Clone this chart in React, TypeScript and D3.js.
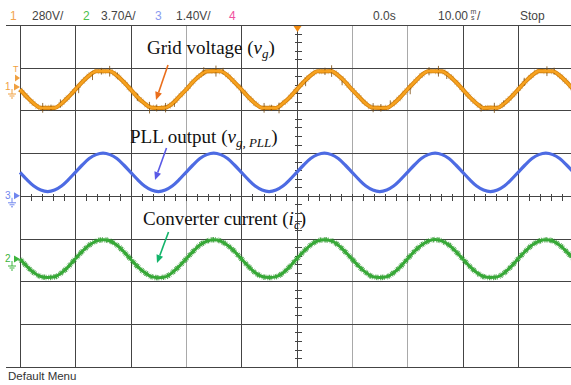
import React, { useEffect, useRef } from 'react';
import * as d3 from 'd3';

const W = 571;
const H = 385;

// one sample every 1.25 ms, 100 ms on screen (10 div x 10 ms)
const sampleStepMs = 1.25;
const timeSpanMs = 100;

// channel 1, grid voltage (V)
const gridVoltage = [
  -10, -59, -102, -130, -130, -130, -102, -59, -10, 39, 82, 110, 110, 110, 82, 39,
  -10, -60, -101, -129, -131, -129, -103, -58, -11, 40, 81, 109, 111, 110, 83, 38,
  -9, -59, -102, -130, -130, -131, -101, -60, -10, 39, 82, 110, 109, 111, 82, 40,
  -11, -58, -103, -129, -130, -130, -102, -59, -9, 38, 83, 110, 110, 109, 81, 39,
  -10, -60, -102, -131, -129, -130, -101, -59, -10, 40, 82, 111, 110, 110, 82, 39,
  -10,
];

// switching spikes on the grid voltage: time (ms), spike height (V)
const spikeTimes = [
  4.1, 5.6, 7.3, 10.6, 13.1, 14.7, 16.2, 17.6, 21.2, 23.4, 24.7, 26.3, 27.9,
  33.2, 35.4, 36.7, 39.9, 44.1, 45.4, 46.8, 51.6, 55.1, 56.3, 58.2, 63.8,
  65.2, 66.9, 70.5, 73.9, 75.6, 77.1, 83.3, 85.7, 87.4, 91.1, 95.2, 96.5,
];
const spikeHeights = [
  64, 42, 55, 48, 60, 44, 70, 40, 50, 76, 46, 62, 42,
  54, 72, 44, 50, 64, 40, 70, 54, 48, 76, 44, 60,
  50, 42, 64, 54, 70, 44, 48, 66, 40, 54, 64, 46,
];

// channel 3, PLL output (V)
const pllOutput = [
  0.77, 0.53, 0.32, 0.19, 0.14, 0.19, 0.32, 0.53, 0.77, 1.01, 1.22, 1.35, 1.4, 1.35, 1.22, 1.01,
  0.77, 0.53, 0.32, 0.19, 0.14, 0.19, 0.32, 0.53, 0.77, 1.01, 1.22, 1.35, 1.4, 1.35, 1.22, 1.01,
  0.77, 0.53, 0.32, 0.19, 0.14, 0.19, 0.32, 0.53, 0.77, 1.01, 1.22, 1.35, 1.4, 1.35, 1.22, 1.01,
  0.77, 0.53, 0.32, 0.19, 0.14, 0.19, 0.32, 0.53, 0.77, 1.01, 1.22, 1.35, 1.4, 1.35, 1.22, 1.01,
  0.77, 0.53, 0.32, 0.19, 0.14, 0.19, 0.32, 0.53, 0.77, 1.01, 1.22, 1.35, 1.4, 1.35, 1.22, 1.01,
  0.77,
];

// channel 2, converter current (A)
const converterCurrent = [
  0, -0.64, -1.18, -1.52, -1.6, -1.54, -1.2, -0.66, 0.02, 0.66, 1.2, 1.55, 1.66, 1.56, 1.2, 0.64,
  -0.02, -0.66, -1.16, -1.53, -1.62, -1.55, -1.18, -0.64, 0, 0.64, 1.21, 1.54, 1.67, 1.55, 1.19, 0.66,
  0.01, -0.63, -1.19, -1.52, -1.61, -1.53, -1.21, -0.65, 0.02, 0.65, 1.2, 1.56, 1.66, 1.57, 1.2, 0.63,
  -0.01, -0.65, -1.18, -1.54, -1.6, -1.54, -1.19, -0.66, 0.01, 0.66, 1.19, 1.55, 1.68, 1.55, 1.21, 0.65,
  0, -0.64, -1.17, -1.52, -1.61, -1.55, -1.2, -0.64, 0.02, 0.65, 1.2, 1.54, 1.66, 1.56, 1.2, 0.64,
  0,
];

const channelNumbers = ['1', '2', '3', '4'];
const channelScaleLabels = ['280V/', '3.70A/', '1.40V/', ''];
const voltsPerDiv = { ch1: 280, ch2: 3.7, ch3: 1.4 };

const App = () => {
  const ref = useRef<SVGSVGElement>(null);

  useEffect(() => {
    const svg = d3.select(ref.current);
    svg.selectAll('*').remove();

    const left = 20;
    const top = 25;
    const divW = 55.35;
    const divH = 42.7;
    const bottom = top + 8 * divH;

    const x = d3.scaleLinear().domain([0, timeSpanMs]).range([left, left + 10 * divW]);

    // channel ground levels (px)
    const g1 = 88;
    const g3 = top + 4 * divH;
    const g2 = 259;
    const y1 = d3.scaleLinear().domain([0, voltsPerDiv.ch1]).range([g1, g1 - divH]);
    const y3 = d3.scaleLinear().domain([0, voltsPerDiv.ch3]).range([g3, g3 - divH]);
    const y2 = d3.scaleLinear().domain([0, voltsPerDiv.ch2]).range([g2, g2 - divH]);

    svg.append('rect').attr('width', W).attr('height', H).attr('fill', '#fff');

    // grid
    const grid = svg.append('g').attr('shape-rendering', 'crispEdges');
    const lighter = [3, 6, 7];
    d3.range(1, 11).forEach((i) => {
      grid.append('line')
        .attr('x1', Math.round(left + i * divW) + 0.5).attr('x2', Math.round(left + i * divW) + 0.5)
        .attr('y1', top).attr('y2', bottom)
        .attr('stroke', lighter.includes(i) ? '#a9a9a9' : '#444');
    });
    d3.range(1, 8).forEach((j) => {
      grid.append('line')
        .attr('x1', left).attr('x2', W)
        .attr('y1', Math.round(top + j * divH) + 0.5).attr('y2', Math.round(top + j * divH) + 0.5)
        .attr('stroke', '#444');
    });
    grid.append('line').attr('x1', left + 0.5).attr('x2', left + 0.5)
      .attr('y1', top).attr('y2', bottom).attr('stroke', '#444');
    grid.append('line').attr('x1', 6).attr('x2', W).attr('y1', top + 0.5).attr('y2', top + 0.5).attr('stroke', '#444');
    grid.append('line').attr('x1', 6).attr('x2', W).attr('y1', Math.round(bottom) + 0.5).attr('y2', Math.round(bottom) + 0.5).attr('stroke', '#444');

    // minor ticks on centre lines
    const cx = Math.round(left + 5 * divW) + 0.5;
    const cy = Math.round(g3) + 0.5;
    d3.range(1, 40).forEach((k) => {
      const yy = Math.round(top + k * divH / 5) + 0.5;
      grid.append('line').attr('x1', cx - 3).attr('x2', cx + 4).attr('y1', yy).attr('y2', yy).attr('stroke', '#444');
    });
    d3.range(1, 50).forEach((k) => {
      const xx = Math.round(left + k * divW / 5) + 0.5;
      grid.append('line').attr('x1', xx).attr('x2', xx).attr('y1', cy - 3).attr('y2', cy + 4).attr('stroke', '#444');
    });

    // traces
    const line = (y: d3.ScaleLinear<number, number>) => d3.line<number>()
      .x((_, i) => x(i * sampleStepMs))
      .y((d) => y(d))
      .curve(d3.curveMonotoneX);

    const traces = svg.append('g').attr('fill', 'none').attr('stroke-linejoin', 'round');

    // grid voltage, orange with dark rim and spikes
    const vPath = line(y1)(gridVoltage) as string;
    traces.append('path').attr('d', vPath)
      .attr('stroke', '#9a6210').attr('stroke-width', 6).attr('opacity', 0.45)
      .attr('stroke-dasharray', '0.7 2.3 0.6 4 0.8 1.6 0.6 5.5');
    traces.append('path').attr('d', vPath)
      .attr('stroke', '#d4820f').attr('stroke-width', 4.2);

    // spikes, read at the trace value nearest in time
    const nearest = (t: number) => gridVoltage[Math.round(t / sampleStepMs)];
    traces.selectAll('line.spike')
      .data(spikeTimes.map((t, i) => ({ t, h: spikeHeights[i] })))
      .join('line')
      .attr('class', 'spike')
      .attr('x1', (d) => x(d.t)).attr('x2', (d) => x(d.t))
      .attr('y1', (d) => y1(nearest(d.t) + d.h / 2))
      .attr('y2', (d) => y1(nearest(d.t) - d.h / 2))
      .attr('stroke', '#7a4a0a').attr('stroke-width', 1).attr('opacity', 0.8);

    traces.append('path').attr('d', vPath)
      .attr('stroke', '#f7a21f').attr('stroke-width', 2.4);

    // PLL output, blue
    traces.append('path').attr('d', line(y3)(pllOutput))
      .attr('stroke', '#4d6be3').attr('stroke-width', 3.2);

    // converter current, green fuzzy
    const iPath = line(y2)(converterCurrent) as string;
    traces.append('path').attr('d', iPath)
      .attr('stroke', '#1e8c1e').attr('stroke-width', 5.5).attr('opacity', 0.75)
      .attr('stroke-dasharray', '0.6 0.9 1.2 0.7 0.5 1.4 0.9 0.6 1.5 0.8 0.7 1.9');
    traces.append('path').attr('d', iPath)
      .attr('stroke', '#36a836').attr('stroke-width', 3);

    // trigger marker
    svg.append('path').attr('d', `M${cx - 4},${top + 1}L${cx + 4},${top + 1}L${cx},${top + 7}Z`).attr('fill', '#f08a10');

    // channel markers at the left edge
    const ground = (gx: number, gy: number) =>
      `M${gx},${gy - 3}V${gy + 2}M${gx - 4},${gy + 2}H${gx + 4}M${gx - 2.5},${gy + 4}H${gx + 2.5}M${gx - 1},${gy + 6}H${gx + 1}`;
    const marker = (num: string, gy: number, color: string) => {
      const m = svg.append('g');
      m.append('text').attr('x', 5).attr('y', gy + 3).attr('font-family', 'Liberation Sans, sans-serif')
        .attr('font-size', 10).attr('fill', color).text(num);
      m.append('path').attr('d', `M14,${gy - 3.5}L20,${gy}L14,${gy + 3.5}Z`).attr('fill', color);
      m.append('path').attr('d', ground(12, gy + 5)).attr('stroke', color).attr('fill', 'none').attr('stroke-width', 1);
    };
    svg.append('text').attr('x', 13).attr('y', 72).attr('font-family', 'Liberation Sans, sans-serif')
      .attr('font-size', 9).attr('fill', '#f0a040').text('T');
    svg.append('path').attr('d', 'M15,74.5L20,78L15,81.5Z').attr('fill', '#f0a040');
    marker('1', g1 - 1, '#f0a040');
    marker('3', g3, '#6f86ee');
    marker('2', g2, '#3cb43c');

    // header
    const hdr = svg.append('g').attr('font-family', 'Liberation Sans, Arial, sans-serif').attr('font-size', 12);
    const numColors = ['#f2a44e', '#4cc04c', '#8a9cf0', '#f0509e'];
    const numX = [10, 83, 155, 229];
    const lblX = [32, 101, 176, 0];
    channelNumbers.forEach((n, i) => {
      hdr.append('text').attr('x', numX[i]).attr('y', 20).attr('fill', numColors[i]).text(n);
      if (channelScaleLabels[i]) {
        hdr.append('text').attr('x', lblX[i]).attr('y', 20).attr('fill', '#444').text(channelScaleLabels[i]);
      }
    });
    hdr.append('text').attr('x', 373).attr('y', 20).attr('fill', '#444').text('0.0s');
    hdr.append('text').attr('x', 438).attr('y', 20).attr('fill', '#444').text('10.00');
    hdr.append('text').attr('x', 470.5).attr('y', 14).attr('font-size', 7).attr('fill', '#444').text('m');
    hdr.append('text').attr('x', 471).attr('y', 20).attr('font-size', 7).attr('fill', '#444').text('s');
    hdr.append('text').attr('x', 477).attr('y', 20).attr('fill', '#444').text('/');
    hdr.append('text').attr('x', 520).attr('y', 20).attr('fill', '#444').text('Stop');

    svg.append('text').attr('x', 8).attr('y', 380).attr('font-family', 'Liberation Sans, Arial, sans-serif')
      .attr('font-size', 11.5).attr('fill', '#333').text('Default Menu');

    // annotations
    const serif = 'Liberation Serif, Times New Roman, serif';
    const ann = svg.append('g').attr('font-family', serif).attr('font-size', 19).attr('fill', '#111');
    const t1 = ann.append('text').attr('x', 147).attr('y', 54);
    t1.append('tspan').text('Grid voltage (');
    t1.append('tspan').attr('font-style', 'italic').text('v');
    t1.append('tspan').attr('font-style', 'italic').attr('font-size', 13).attr('dy', 4).text('g');
    t1.append('tspan').attr('dy', -4).text(')');

    const t2 = ann.append('text').attr('x', 130).attr('y', 143);
    t2.append('tspan').text('PLL output (');
    t2.append('tspan').attr('font-style', 'italic').text('v');
    t2.append('tspan').attr('font-style', 'italic').attr('font-size', 13).attr('dy', 4).text('g, PLL');
    t2.append('tspan').attr('dy', -4).text(')');

    const t3 = ann.append('text').attr('x', 143).attr('y', 225);
    t3.append('tspan').text('Converter current (');
    t3.append('tspan').attr('font-style', 'italic').text('i');
    t3.append('tspan').attr('font-style', 'italic').attr('font-size', 13).attr('dy', 4).text('c');
    t3.append('tspan').attr('dy', -4).text(')');

    const arrow = (x0: number, y0: number, x1: number, y1: number, color: string) => {
      const a = Math.atan2(y1 - y0, x1 - x0);
      const len = 8;
      const wdt = 3.5;
      const bx = x1 - len * Math.cos(a);
      const by = y1 - len * Math.sin(a);
      svg.append('line').attr('x1', x0).attr('y1', y0).attr('x2', bx).attr('y2', by)
        .attr('stroke', color).attr('stroke-width', 1.6);
      svg.append('path')
        .attr('d', `M${x1},${y1}L${bx + wdt * Math.sin(a)},${by - wdt * Math.cos(a)}L${bx - wdt * Math.sin(a)},${by + wdt * Math.cos(a)}Z`)
        .attr('fill', color);
    };
    arrow(168, 65, 156, 100, '#ea6e1c');
    arrow(166.5, 148, 155, 180, '#5a5ae6');
    arrow(168.5, 232, 157, 263, '#12b46a');
  }, []);

  return (
    <svg ref={ref} width={W} height={H} style={{ position: 'absolute', left: 0, top: 0, display: 'block' }} />
  );
};

export default App;
